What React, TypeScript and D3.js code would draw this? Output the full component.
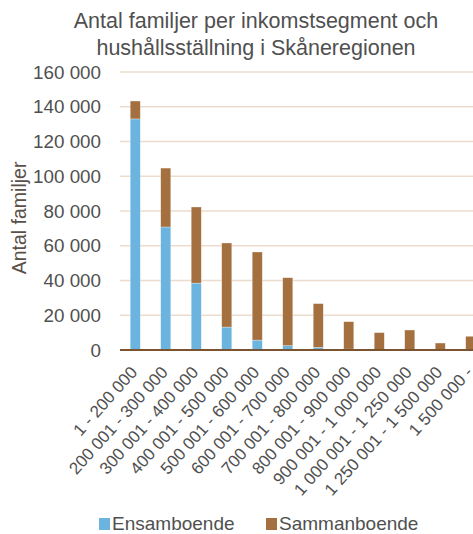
import React from "react";
import * as d3 from "d3";

const categories = [
  "1 - 200 000",
  "200 001 - 300 000",
  "300 001 - 400 000",
  "400 001 - 500 000",
  "500 001 - 600 000",
  "600 001 - 700 000",
  "700 001 - 800 000",
  "800 001 - 900 000",
  "900 001 - 1 000 000",
  "1 000 001 - 1 250 000",
  "1 250 001 - 1 500 000",
  "1 500 000 -",
];
const ensamboende = [133000, 70800, 38500, 13200, 5700, 2500, 1500, 500, 200, 200, 100, 100];
const totals = [143300, 104700, 82300, 61600, 56400, 41600, 26700, 16300, 10000, 11500, 4000, 7900];
const yTicks = [0, 20000, 40000, 60000, 80000, 100000, 120000, 140000, 160000];
const seriesNames = ["Ensamboende", "Sammanboende"];
const colors = ["#6ab4df", "#a5703f"];

const fmt = (v: number) => d3.format(",")(v).replace(/,/g, " ");

export default function App() {
  const W = 473;
  const H = 534;
  const x = d3.scaleBand().domain(categories).range([120, 486]).paddingInner(0.67).paddingOuter(0.335);
  const y = d3.scaleLinear().domain([0, 160000]).range([350, 72]);
  const font = "'Liberation Sans', Arial, sans-serif";
  const textColor = "#505050";

  return (
    <>
      <style>{"body{margin:0}"}</style>
      <svg width={W} height={H} style={{ display: "block", background: "#fff" }} fontFamily={font}>
        <text x={256} y={28} textAnchor="middle" fontSize={21.5} fill={textColor}>
          Antal familjer per inkomstsegment och
        </text>
        <text x={256} y={55} textAnchor="middle" fontSize={21.5} fill={textColor}>
          hushållsställning i Skåneregionen
        </text>

        {/* grid + y ticks */}
        {yTicks.map((t) => (
          <g key={t}>
            {t > 0 && <line x1={120} x2={W} y1={y(t)} y2={y(t)} stroke="#ecdccd" strokeWidth={1.3} />}
            <text x={101} y={y(t)} dy="0.35em" textAnchor="end" fontSize={18.8} fill={textColor}>
              {fmt(t)}
            </text>
          </g>
        ))}

        <text
          transform={`translate(26,${y(76000)}) rotate(-90)`}
          textAnchor="middle"
          fontSize={19.5}
          fill="#5a5048"
        >
          Antal familjer
        </text>

        {/* bars */}
        {categories.map((c, i) => {
          const bx = x(c)!;
          const bw = x.bandwidth();
          return (
            <g key={c}>
              <rect x={bx} width={bw} y={y(ensamboende[i])} height={y(0) - y(ensamboende[i])} fill={colors[0]} stroke="#fff" strokeOpacity={0.5} strokeWidth={0.6} />
              <rect x={bx} width={bw} y={y(totals[i])} height={y(ensamboende[i]) - y(totals[i])} fill={colors[1]} stroke="#fff" strokeOpacity={0.5} strokeWidth={0.6} />
            </g>
          );
        })}

        <line x1={120} x2={W} y1={350} y2={350} stroke="#7b5331" strokeWidth={2} />

        {/* x labels */}
        {categories.map((c) => {
          const cx = x(c)! + x.bandwidth() / 2;
          return (
            <text
              key={c}
              transform={`translate(${cx + 3},${373}) rotate(-48)`}
              textAnchor="end"
              fontSize={17}
              fill={textColor}
            >
              {c}
            </text>
          );
        })}

        {/* legend */}
        {seriesNames.map((s, i) => {
          const lx = i === 0 ? 99 : 266;
          return (
            <g key={s}>
              <rect x={lx} y={518} width={11} height={12} fill={colors[i]} />
              <text x={lx + 13} y={530} fontSize={19} fill={textColor}>
                {s}
              </text>
            </g>
          );
        })}
      </svg>
    </>
  );
}
